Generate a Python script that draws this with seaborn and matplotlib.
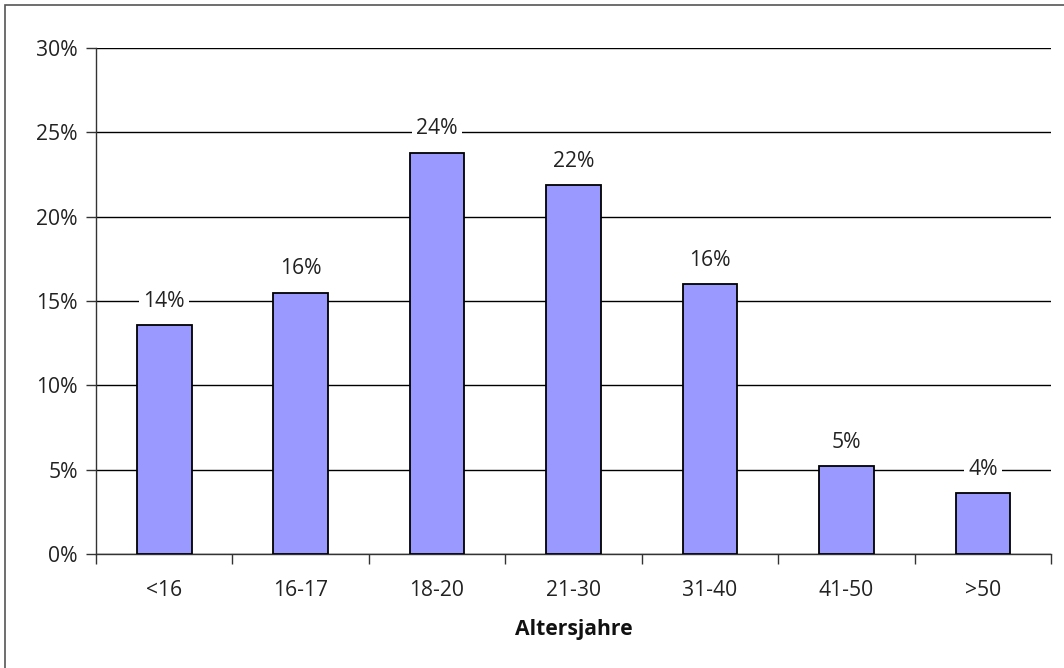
import matplotlib
matplotlib.use("Agg")
import matplotlib.pyplot as plt
import matplotlib.patches as mpatches
from matplotlib.ticker import FixedLocator, PercentFormatter
import numpy as np
import pandas as pd
import seaborn as sns

categories = ["<16", "16-17", "18-20", "21-30", "31-40", "41-50", ">50"]
shares = [13.6, 15.5, 23.8, 21.9, 16.0, 5.2, 3.6]
labels = ["14%", "16%", "24%", "22%", "16%", "5%", "4%"]

BAR_COLOR = "#9999FF"
FS = 15.2


def main() -> None:
	sns.set_style("white")
	plt.rcParams["font.family"] = ["Open Sans", "DejaVu Sans"]

	df = pd.DataFrame({"age": categories, "share": shares})

	fig = plt.figure(figsize=(10.64, 6.68), dpi=100)
	ax = fig.add_axes([96 / 1064, 1 - 554 / 668, (1051 - 96) / 1064, (554 - 48) / 668])

	# thin frame round the whole chart area (only left/top visible in the crop)
	fig.patches.append(
		mpatches.Rectangle(
			(5 / 1064, -0.1), 1.2, 1 - 5 / 668 + 0.1,
			transform=fig.transFigure, fill=False, edgecolor="#555555", linewidth=1.2,
		)
	)

	sns.barplot(
		data=df, x="age", y="share", color=BAR_COLOR, width=0.4,
		edgecolor="black", linewidth=1.3, saturation=1, ax=ax, zorder=3,
	)

	ax.set_ylim(0, 30)
	ax.set_xlim(-0.5, len(categories) - 0.5)
	ax.set_yticks(np.arange(0, 31, 5))
	ax.yaxis.set_major_formatter(PercentFormatter(decimals=0))
	ax.grid(axis="y", color="black", linewidth=1.0, zorder=0)
	ax.set_axisbelow(True)

	for side in ["top", "right"]:
		ax.spines[side].set_visible(False)
	for side in ["left", "bottom"]:
		ax.spines[side].set_color("#333333")
		ax.spines[side].set_linewidth(1.0)

	ax.tick_params(axis="y", length=7, width=1, color="#333333", direction="out",
				   labelsize=FS, labelcolor="#222222", pad=6, left=True)
	ax.tick_params(axis="x", which="major", length=0, labelsize=FS,
				   labelcolor="#222222", pad=19)
	ax.xaxis.set_minor_locator(FixedLocator(np.arange(-0.5, len(categories), 1)))
	ax.tick_params(axis="x", which="minor", length=7, width=1, color="#333333",
				   direction="out", bottom=True)

	ax.set_ylabel("")
	ax.set_xlabel("Altersjahre", fontsize=FS, fontweight="bold", labelpad=13,
				  color="#111111")

	for i, (v, lab) in enumerate(zip(shares, labels)):
		ax.annotate(
			lab, (i, v), xytext=(0, 17), textcoords="offset points",
			ha="center", va="center", fontsize=FS, color="#222222", zorder=5,
			bbox=dict(boxstyle="square,pad=0.2", facecolor="white", edgecolor="none"),
		)

	fig.savefig("out.png", dpi=100, facecolor="white")


if __name__ == "__main__":
	main()
